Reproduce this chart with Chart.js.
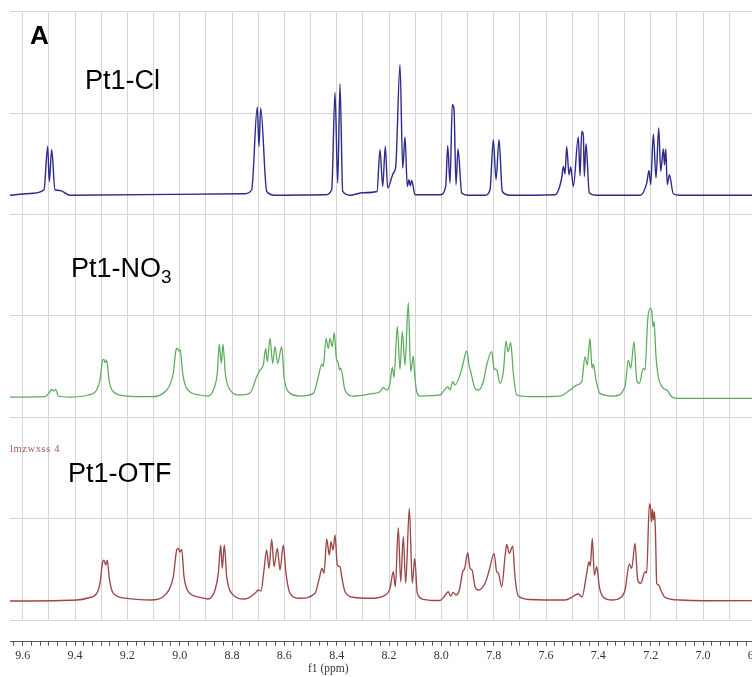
<!DOCTYPE html>
<html>
<head>
<meta charset="utf-8">
<script src="https://cdn.jsdelivr.net/npm/chart.js@4.4.1/dist/chart.umd.min.js"></script>
<style>
  html, body { margin: 0; padding: 0; background: #fff; width: 752px; height: 677px; overflow: hidden; }
  #wrap { position: relative; width: 800px; height: 677px; }
  #c { position: absolute; left: 0; top: 0; }
  .lbl { position: absolute; font-family: "Liberation Sans", Arial, sans-serif; color: #000; white-space: nowrap; line-height: 1; }
  .lbl sub { font-size: 0.7em; vertical-align: -0.3em; line-height: 0; }
  .small { position: absolute; font-family: "Liberation Serif", serif; font-size: 10.5px; letter-spacing: 0.6px; color: #a85a5a; line-height: 1; white-space: nowrap; }
  .axt { position: absolute; font-family: "Liberation Serif", serif; font-size: 11.5px; color: #333; line-height: 1; white-space: nowrap; }
</style>
</head>
<body>
<div id="wrap">
  <canvas id="c" width="800" height="677"></canvas>
  <div class="lbl" style="left:30px;top:21.5px;font-size:26px;font-weight:bold;">A</div>
  <div class="lbl" style="left:85px;top:66.5px;font-size:27px;">Pt1-Cl</div>
  <div class="lbl" style="left:71px;top:254.5px;font-size:27px;">Pt1-NO<sub>3</sub></div>
  <div class="small" style="left:10px;top:444px;">lmzwxss 4</div>
  <div class="lbl" style="left:68px;top:459.5px;font-size:27px;">Pt1-OTF</div>
  <div class="axt" style="left:308px;top:663px;">f1 (ppm)</div>
</div>
<script>
// ---- data: [chemical shift (ppm), intensity above the trace baseline] ----
const specCl = [[9.65,0],[9.5606,2.0],[9.5186,5.4],[9.5045,48.1],[9.4983,13.6],[9.4892,44.9],[9.4766,5.4],[9.4574,4.7],[9.4192,0],
 [8.7504,1.5],[8.7248,5.4],[8.7034,87.0],[8.6969,48.1],[8.6904,86.0],[8.6675,3.7],[8.6357,0],
 [8.4446,0.5],[8.4190,5.4],[8.4064,101.4],[8.3961,12.0],[8.3873,109.7],[8.3770,3.7],[8.3491,0],[8.2994,2.5],[8.2459,3.7],
 [8.2344,44.9],[8.2241,8.7],[8.2142,48.1],[8.2050,7.1],[8.1836,21.9],[8.1744,28.4],[8.1580,128.7],[8.1476,26.8],[8.1389,57.4],
 [8.1301,8.7],[8.1236,15.3],[8.1186,9.4],[8.1133,14.6],[8.1006,0.5],
 [8.0051,0.5],[7.9833,8.7],[7.9757,48.8],[7.9669,12.0],[7.9581,89.3],[7.9516,85.0],[7.9440,10.4],[7.9363,45.6],[7.9222,2.2],[7.8981,0],
 [7.8331,0],[7.8140,5.4],[7.8014,54.7],[7.7910,15.3],[7.7796,54.7],[7.7670,3.7],[7.7376,0],
 [7.5656,0.5],[7.5400,17.0],[7.5339,28.4],[7.5273,21.2],[7.5209,48.1],[7.5121,20.2],[7.5056,27.8],[7.4956,8.7],[7.4765,57.4],
 [7.4700,19.2],[7.4635,62.9],[7.4574,59.7],[7.4536,18.5],[7.4471,50.8],[7.4345,2.2],[7.4089,0],
 [7.2407,0],[7.2151,12.0],[7.2063,24.5],[7.1998,10.4],[7.1899,60.4],[7.1796,17.0],[7.1693,66.3],[7.1616,23.5],[7.1517,45.6],
 [7.1471,30.1],[7.1425,45.6],[7.1364,10.4],[7.1287,20.2],[7.1135,1.5],[7.0878,0],[6.70,0]];

const specNO3 = [[9.65,0],[9.5148,0.5],[9.4957,5.2],[9.4892,7.6],[9.4823,5.9],[9.4739,7.6],[9.4639,1.0],[9.4192,0],
 [9.3504,2.0],[9.3172,6.9],[9.3046,16.8],[9.2942,36.5],[9.2893,37.2],[9.2843,33.8],[9.2790,36.5],[9.2702,16.8],[9.2537,5.2],[9.2025,1.0],[9.1135,0.3],
 [9.0496,6.9],[9.0244,23.7],[9.0141,46.4],[9.0091,48.0],[9.0026,45.4],[8.9977,46.4],[8.9885,23.4],[8.9732,8.6],[8.9224,2.0],[8.8918,1.0],
 [8.8715,6.9],[8.8562,23.7],[8.8486,52.0],[8.8410,33.2],[8.8345,52.0],[8.8257,23.4],[8.8077,6.9],[8.7695,2.0],
 [8.7313,3.9],[8.7057,20.0],[8.6931,26.6],[8.6804,31.6],[8.6713,48.0],[8.6652,34.8],[8.6548,57.9],[8.6445,33.2],[8.6357,49.6],
 [8.6254,33.2],[8.6101,49.6],[8.6013,20.0],[8.5849,5.2],[8.5402,1.0],
 [8.4893,3.6],[8.4702,20.0],[8.4572,32.5],[8.4511,29.9],[8.4408,57.9],[8.4320,48.0],[8.4255,57.9],[8.4167,49.6],[8.4091,63.4],
 [8.4014,38.5],[8.3938,33.2],[8.3892,26.6],[8.3846,28.6],[8.3682,6.9],[8.3365,1.0],
 [8.2726,3.0],[8.2344,5.2],[8.2218,9.2],[8.2088,6.9],[8.1962,13.5],[8.1874,29.3],[8.1809,19.4],[8.1683,69.3],[8.1580,27.3],
 [8.1492,64.4],[8.1389,31.6],[8.1263,93.0],[8.1171,25.0],[8.1071,40.4],[8.1033,26.6],[8.0941,5.2],[8.0815,1.0],
 [8.0051,2.0],[7.9860,7.6],[7.9757,10.2],[7.9669,6.9],[7.9565,15.1],[7.9478,11.8],[7.9287,21.7],[7.9183,31.6],[7.9030,45.4],
 [7.8942,31.6],[7.8877,25.0],[7.8713,8.6],[7.8587,6.9],[7.8396,15.1],[7.8266,31.6],[7.8075,44.7],[7.7987,28.3],[7.7884,26.6],
 [7.7758,13.5],[7.7624,26.6],[7.7529,55.2],[7.7452,44.7],[7.7349,53.6],[7.7250,23.4],[7.7120,2.0],[7.6611,0.5],
 [7.5465,1.0],[7.5082,6.9],[7.4827,11.8],[7.4635,15.1],[7.4509,39.7],[7.4421,31.6],[7.4318,57.9],[7.4242,28.3],[7.4192,32.5],
 [7.4089,16.8],[7.3936,3.6],[7.3427,1.0],
 [7.2980,10.2],[7.2854,36.5],[7.2762,28.3],[7.2636,54.5],[7.2533,16.8],[7.2433,13.5],[7.2281,28.3],[7.2216,26.6],[7.2113,75.9],
 [7.2025,87.4],[7.1960,85.1],[7.1910,69.3],[7.1872,74.3],[7.1796,39.7],[7.1708,20.0],[7.1517,8.6],[7.1386,6.9],[7.1196,0.3],
 [7.1005,-1.3],[6.70,-1.3]];

const specOTF = [[9.65,-0.5],[9.3936,0.5],[9.3504,2.5],[9.3172,7.1],[9.3046,17.0],[9.2942,38.3],[9.2893,39.9],[9.2828,35.0],[9.2767,39.9],
 [9.2690,21.9],[9.2537,7.1],[9.2025,2.2],[9.1135,0.5],
 [9.0496,7.1],[9.0244,23.5],[9.0114,49.8],[9.0053,51.5],[8.9988,47.8],[8.9923,50.5],[8.9835,23.5],[8.9671,8.7],[8.9224,3.2],[8.8918,1.5],
 [8.8650,10.4],[8.8524,26.8],[8.8433,54.7],[8.8372,31.8],[8.8295,54.7],[8.8203,23.5],[8.8012,7.1],[8.7504,1.5],
 [8.7122,7.1],[8.6996,10.4],[8.6892,9.4],[8.6778,30.1],[8.6675,49.8],[8.6587,31.8],[8.6483,60.4],[8.6395,33.3],[8.6269,51.5],
 [8.6166,30.1],[8.6040,54.7],[8.5937,26.8],[8.5784,7.1],[8.5402,2.2],
 [8.4828,7.1],[8.4664,21.9],[8.4561,31.8],[8.4484,26.8],[8.4381,60.4],[8.4282,44.9],[8.4217,58.0],[8.4140,49.8],[8.4064,64.6],
 [8.3976,35.0],[8.3873,33.3],[8.3808,23.5],[8.3682,8.7],[8.3365,3.2],
 [8.2726,2.2],[8.2218,4.4],[8.1962,12.0],[8.1836,28.4],[8.1759,13.6],[8.1645,71.8],[8.1553,18.5],[8.1454,62.9],[8.1362,17.0],
 [8.1224,90.9],[8.1110,17.0],[8.1018,41.6],[8.0919,7.1],[8.0689,1.2],[8.0051,0],
 [7.9898,3.7],[7.9822,6.4],[7.9734,8.7],[7.9650,4.4],[7.9543,8.1],[7.9440,5.4],[7.9313,10.4],[7.9183,28.4],[7.9107,31.8],
 [7.8992,47.1],[7.8904,31.8],[7.8827,30.1],[7.8713,13.6],[7.8587,10.4],[7.8331,17.0],[7.8167,30.1],[7.7987,46.5],[7.7884,28.4],
 [7.7822,27.1],[7.7693,13.6],[7.7566,43.2],[7.7501,55.4],[7.7402,46.5],[7.7273,53.7],[7.7185,23.5],[7.7058,4.4],[7.6611,1.0],
 [7.5273,0.5],[7.5017,3.2],[7.4891,5.4],[7.4765,6.4],[7.4624,3.5],[7.4444,26.8],[7.4356,38.3],[7.4307,34.0],[7.4230,61.3],
 [7.4154,25.1],[7.4062,33.3],[7.3963,13.6],[7.3810,3.2],[7.3478,0.5],
 [7.3171,2.5],[7.2980,10.4],[7.2816,36.0],[7.2724,31.8],[7.2598,56.4],[7.2495,20.2],[7.2380,17.0],[7.2216,28.4],[7.2151,27.1],
 [7.2052,95.2],[7.2006,91.2],[7.1968,77.7],[7.1929,90.2],[7.1891,79.4],[7.1853,87.3],[7.1815,64.6],[7.1769,17.0],[7.1693,15.3],
 [7.1616,10.4],[7.1451,3.2],[7.0878,0.5],[7.0,-0.2],[6.70,0]];

// tick labels of the ppm axis
const tickLabels = ['9.6','9.4','9.2','9.0','8.8','8.6','8.4','8.2','8.0','7.8','7.6','7.4','7.2','7.0','6.8'];

// ---- layout / style ----
const X_MIN = 6.70, X_MAX = 9.6485;
const traces = [
  { data: specCl,  base: 419,  color: '#2b2b8a', width: 1.4 },
  { data: specNO3, base: 220,  color: '#5aab5a', width: 1.25 },
  { data: specOTF, base: 19.3, color: '#9c4646', width: 1.35 }
];

const gridTicks = [];
for (let k = Math.ceil(X_MIN * 10); k <= Math.floor(X_MAX * 10); k++) gridTicks.push(k / 10);
const axisTicks = [];
for (let k = Math.ceil(X_MIN * 30); k <= Math.floor(X_MAX * 30); k++) axisTicks.push(k / 30);

function labelFor(v) {
  const hit = tickLabels.find(t => Math.abs(parseFloat(t) - v) < 1e-6);
  return hit || '';
}

new Chart(document.getElementById('c'), {
  type: 'line',
  data: {
    datasets: traces.map(t => ({
      data: t.data.map(p => ({ x: p[0], y: t.base + p[1] })),
      borderColor: t.color,
      borderWidth: t.width,
      pointRadius: 0,
      fill: false,
      cubicInterpolationMode: 'monotone',
      xAxisID: 'x',
      yAxisID: 'y'
    }))
  },
  options: {
    responsive: false,
    animation: false,
    devicePixelRatio: 1,
    parsing: false,
    layout: { padding: { left: 10, top: 11.7, right: 18.5, bottom: 0 } },
    plugins: { legend: { display: false }, tooltip: { enabled: false } },
    scales: {
      x: {
        type: 'linear', position: 'bottom', reverse: true, min: X_MIN, max: X_MAX, weight: 0,
        afterBuildTicks: s => { s.ticks = gridTicks.map(v => ({ value: v })); },
        afterFit: s => { s.height = 21.6; },
        ticks: { display: false },
        border: { display: false },
        grid: { color: '#d4d4d4', lineWidth: 1, drawTicks: false }
      },
      xt: {
        type: 'linear', position: 'bottom', reverse: true, min: X_MIN, max: X_MAX, weight: 1,
        afterBuildTicks: s => { s.ticks = axisTicks.map(v => ({ value: v })); },
        afterFit: s => { s.height = 35.3; },
        ticks: {
          autoSkip: false, maxRotation: 0, minRotation: 0, padding: 3,
          color: '#333', font: { family: '"Liberation Serif", serif', size: 12 },
          callback: v => labelFor(v)
        },
        border: { display: true, color: '#555', width: 1 },
        grid: { drawOnChartArea: false, drawTicks: true, tickLength: 4, tickColor: '#555', tickWidth: 1 }
      },
      y: {
        type: 'linear', position: 'left', min: 0, max: 600,
        afterFit: s => { s.width = 0; },
        ticks: { display: false, stepSize: 100 },
        border: { display: false },
        grid: { color: '#d4d4d4', lineWidth: 1, drawTicks: false }
      }
    }
  }
});
</script>
</body>
</html>
